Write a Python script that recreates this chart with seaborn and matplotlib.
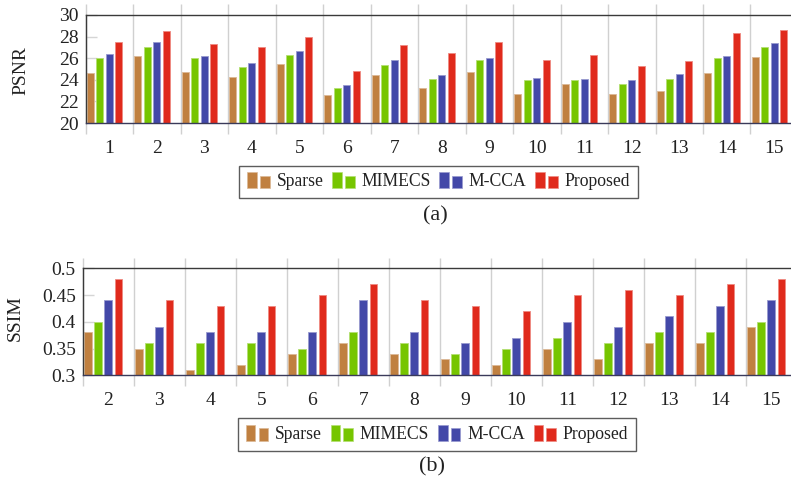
import numpy as np
import pandas as pd
import matplotlib
matplotlib.use("Agg")
import matplotlib.pyplot as plt
import matplotlib.colors as mcolors
from matplotlib.patches import Rectangle
from matplotlib.legend_handler import HandlerBase
import seaborn as sns

methods = ["Sparse", "MIMECS", "M-CCA", "Proposed"]
colors = ["#C08040", "#76C500", "#4348A8", "#E02A1C"]

# PSNR, images 1..15
psnr_images = list(range(1, 16))
psnr_sparse = [24.6, 26.2, 24.7, 24.3, 25.5, 22.6, 24.4, 23.2, 24.7, 22.7, 23.6, 22.7, 23.0, 24.6, 26.1]
psnr_mimecs = [26.0, 27.0, 26.0, 25.2, 26.3, 23.2, 25.4, 24.1, 25.8, 24.0, 24.0, 23.6, 24.1, 26.0, 27.0]
psnr_mcca = [26.4, 27.5, 26.2, 25.6, 26.7, 23.5, 25.8, 24.4, 26.0, 24.2, 24.1, 24.0, 24.5, 26.2, 27.4]
psnr_prop = [27.5, 28.5, 27.3, 27.0, 28.0, 24.8, 27.2, 26.5, 27.5, 25.8, 26.3, 25.3, 25.7, 28.3, 28.6]
psnr_ticks = [20, 22, 24, 26, 28, 30]

# SSIM, images 2..15
ssim_images = list(range(2, 16))
ssim_sparse = [0.38, 0.35, 0.31, 0.32, 0.34, 0.36, 0.34, 0.33, 0.32, 0.35, 0.33, 0.36, 0.36, 0.39]
ssim_mimecs = [0.40, 0.36, 0.36, 0.36, 0.35, 0.38, 0.36, 0.34, 0.35, 0.37, 0.36, 0.38, 0.38, 0.40]
ssim_mcca = [0.44, 0.39, 0.38, 0.38, 0.38, 0.44, 0.38, 0.36, 0.37, 0.40, 0.39, 0.41, 0.43, 0.44]
ssim_prop = [0.48, 0.44, 0.43, 0.43, 0.45, 0.47, 0.44, 0.43, 0.42, 0.45, 0.46, 0.45, 0.47, 0.48]
ssim_ticks = [0.3, 0.35, 0.4, 0.45, 0.5]
ssim_ticklabels = ["0.3", "0.35", "0.4", "0.45", "0.5"]


def to_long(images, series):
    df = pd.DataFrame({"img": images})
    for m, s in zip(methods, series):
        df[m] = s
    df = df.melt(id_vars="img", var_name="method", value_name="val")
    df["pos"] = df["img"] - 0.1  # pgfplots-style bar shift
    return df


psnr_df = to_long(psnr_images, [psnr_sparse, psnr_mimecs, psnr_mcca, psnr_prop])
ssim_df = to_long(ssim_images, [ssim_sparse, ssim_mimecs, ssim_mcca, ssim_prop])

sns.set_theme(style="white")
plt.rcParams["font.family"] = ["Liberation Serif", "DejaVu Serif"]

fig = plt.figure(figsize=(7.91, 4.87), dpi=100)
ax1 = fig.add_axes([0.1083, 0.7474, 0.9005, 0.2218])
ax2 = fig.add_axes([0.1046, 0.2294, 0.9027, 0.2197])


def lighten(c, amt=0.45):
    r = np.array(mcolors.to_rgb(c))
    return tuple(r + (1 - r) * amt)


def draw(ax, df, images, ylim, yticks, yticklabels):
    sns.barplot(data=df, x="pos", y="val", hue="method", hue_order=methods,
                palette=colors, native_scale=True, width=0.8, gap=0.25,
                saturation=1, errorbar=None, legend=False, ax=ax)
    for p in ax.patches:
        p.set_edgecolor(lighten(p.get_facecolor()))
        p.set_linewidth(0.6)
    ax.set_xlim(images[0] - 0.5, images[-1] + 0.5)
    ax.set_ylim(*ylim)
    ax.set_xticks(images)
    ax.set_xticklabels([str(i) for i in images])
    ax.set_yticks(yticks)
    ax.set_yticklabels(yticklabels)
    ax.set_xlabel("")
    ax.set_ylabel("")
    # separators extending past the frame
    seps = np.arange(images[0] - 0.5, images[-1] + 0.6, 1.0)
    ax.vlines(seps, -0.1, 1.1, transform=ax.get_xaxis_transform(),
              colors="#d0d0d0", linewidth=1.0, clip_on=False, zorder=0)
    for s in ax.spines.values():
        s.set_color("#3a3a3a")
        s.set_linewidth(1.0)
    ax.spines["bottom"].set_color("#3a3a5a")
    ax.tick_params(axis="x", length=0, pad=12, labelsize=14, colors="#222222")
    ax.tick_params(axis="y", direction="in", length=8, width=1, color="#d5d5d5",
                   pad=5, labelsize=14, labelcolor="#222222", left=True)


draw(ax1, psnr_df, psnr_images, (20, 30), psnr_ticks, [str(t) for t in psnr_ticks])
draw(ax2, ssim_df, ssim_images, (0.3, 0.5), ssim_ticks, ssim_ticklabels)

fig.text(0.026, 0.856, "PSNR", rotation=90, ha="center", va="center", fontsize=14, color="#222222")
fig.text(0.019, 0.347, "SSIM", rotation=90, ha="center", va="center", fontsize=14, color="#222222")


class TwoBars(HandlerBase):
    def create_artists(self, legend, orig_handle, xdescent, ydescent,
                       width, height, fontsize, trans):
        c = orig_handle.get_facecolor()
        w = width * 0.42
        r1 = Rectangle((-xdescent, -ydescent - 0.1 * height), w, height * 1.2,
                       facecolor=c, edgecolor=lighten(c), lw=0.5, transform=trans)
        r2 = Rectangle((-xdescent + width * 0.56, -ydescent - 0.1 * height), w, height * 0.95,
                       facecolor=c, edgecolor=lighten(c), lw=0.5, transform=trans)
        return [r1, r2]


handles = [Rectangle((0, 0), 1, 1, facecolor=c) for c in colors]
for yc in (0.6263, 0.1078):
    xc = 0.5544 if yc > 0.5 else 0.5525
    leg = fig.legend(handles, methods, loc="center", bbox_to_anchor=(xc, yc),
                     ncol=4, handler_map={Rectangle: TwoBars()}, fontsize=12.7,
                     frameon=True, fancybox=False, handlelength=1.3, handleheight=0.8,
                     handletextpad=0.35, columnspacing=0.5, borderpad=0.45,
                     borderaxespad=0)
    leg.get_frame().set_edgecolor("#333333")
    leg.get_frame().set_linewidth(1.0)
    for t in leg.get_texts():
        t.set_color("#222222")

fig.text(0.551, 0.556, "(a)", ha="center", va="center", fontsize=16, color="#222222")
fig.text(0.546, 0.042, "(b)", ha="center", va="center", fontsize=16, color="#222222")

fig.savefig("out.png", dpi=100)
